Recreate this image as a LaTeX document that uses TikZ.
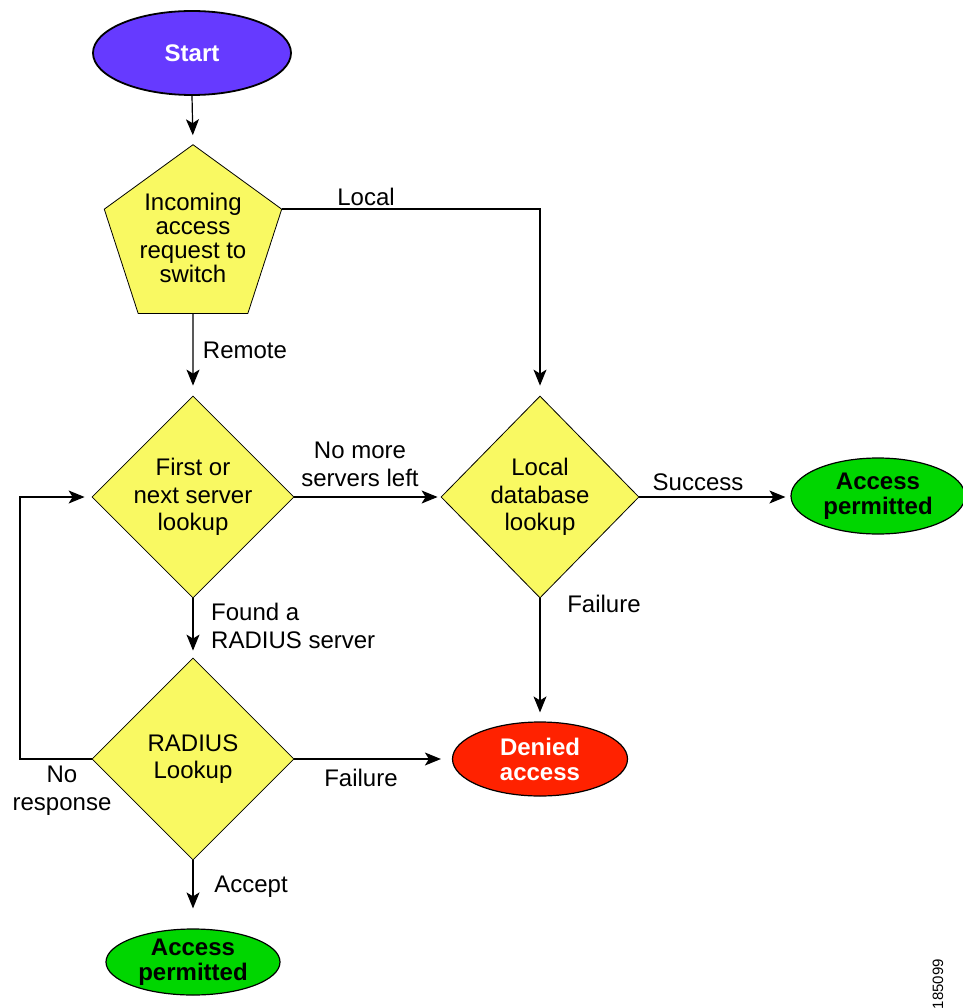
\documentclass[tikz,border=0pt]{standalone}
\usepackage{fontspec}
\setmainfont{Liberation Sans}
\usetikzlibrary{shapes.geometric,arrows.meta}
\definecolor{startc}{RGB}{102,58,255}
\definecolor{yel}{RGB}{249,249,98}
\definecolor{grn}{RGB}{0,214,0}
\definecolor{redc}{RGB}{255,34,0}
\tikzset{
  dec/.style={shape=diamond, draw=black, line width=0.8pt, fill=yel, aspect=1,
    minimum width=202pt, minimum height=202pt, inner sep=0pt, align=center,
    font=\fontsize{24}{27.5}\selectfont},
  term/.style={shape=ellipse, draw=black, line width=1.2pt, inner sep=0pt, align=center,
    font=\fontsize{24}{25}\selectfont\bfseries},
  conn/.style={draw=black, line width=1.2pt, -{Stealth[length=16pt,width=13pt,inset=4pt]}},
  lbl/.style={align=center, inner sep=0pt, font=\fontsize{24}{28}\selectfont}
}
\begin{document}
\begin{tikzpicture}[x={(1pt,0)}, y={(0,-1pt)}]
\useasboundingbox (0,0) rectangle (962,1008);
% nodes
\node[term, fill=startc, text=white, minimum width=198pt, minimum height=84pt, line width=1.8pt] (start) at (192,53) {Start};
\node[shape=regular polygon, regular polygon sides=5, minimum size=184pt, inner sep=0pt,
  draw=black, line width=0.8pt, fill=yel, align=center,
  font=\fontsize{24}{24}\selectfont] (pent) at (193,238) {Incoming\\access\\request to\\switch};
\node[dec] (d1) at (193,497) {First or\\next server\\lookup};
\node[dec, minimum width=198pt] (d2) at (540,497) {Local\\database\\lookup};
\node[dec] (rad) at (193,759) {RADIUS\\Lookup};
\node[term, fill=grn, minimum width=174pt, minimum height=76pt] (ok1) at (878,496) {Access\\permitted};
\node[term, fill=redc, text=white, minimum width=175pt, minimum height=74pt] (den) at (540,759) {Denied\\access};
\node[term, fill=grn, minimum width=174pt, minimum height=66pt] (ok2) at (193,962) {Access\\permitted};
\coordinate (lp) at (20,0);
% connectors
\draw[conn, shorten >=9pt] (start.south) -- (pent.north);
\draw[conn, shorten >=10pt] (pent.south) -- (d1.north);
\draw[conn, shorten >=10pt] (pent.corner 5) -- (pent.corner 5 -| d2.north) -- (d2.north);
\draw[conn, shorten >=3pt] (d1.east) -- (d2.west);
\draw[conn, shorten >=5pt] (d2.east) -- (d2.east -| ok1.west);
\draw[conn, shorten >=9pt] (d2.south) -- (den.north);
\draw[conn, shorten >=7pt] (d1.south) -- (rad.north);
\draw[conn, shorten >=11pt] (rad.east) -- (den.west);
\draw[conn, shorten >=7pt] (rad.west) -- (rad.west -| lp) -- (d1.west -| lp) -- (d1.west);
\draw[conn, shorten >=20pt] (rad.south) -- (ok2.north);
% labels
\node[lbl] (lLocal) at (366,197) {Local};
\node[lbl] (lRemote) at (245,350) {Remote};
\node[lbl] (lNoMore) at (360,464) {No more\\servers left};
\node[lbl] (lSuccess) at (698,482) {Success};
\node[lbl] (lFail1) at (604,604) {Failure};
\node[lbl, align=left, anchor=west] (lFound) at (211,626) {Found a\\RADIUS server};
\node[lbl] (lFail2) at (361,778) {Failure};
\node[lbl] (lNoResp) at (62,791) {No\\response};
\node[lbl] (lAccept) at (251,887) {Accept};
\node[rotate=90, inner sep=0pt, font=\fontsize{15}{15}\selectfont] (code) at (938,984) {185099};
\end{tikzpicture}
\end{document}
